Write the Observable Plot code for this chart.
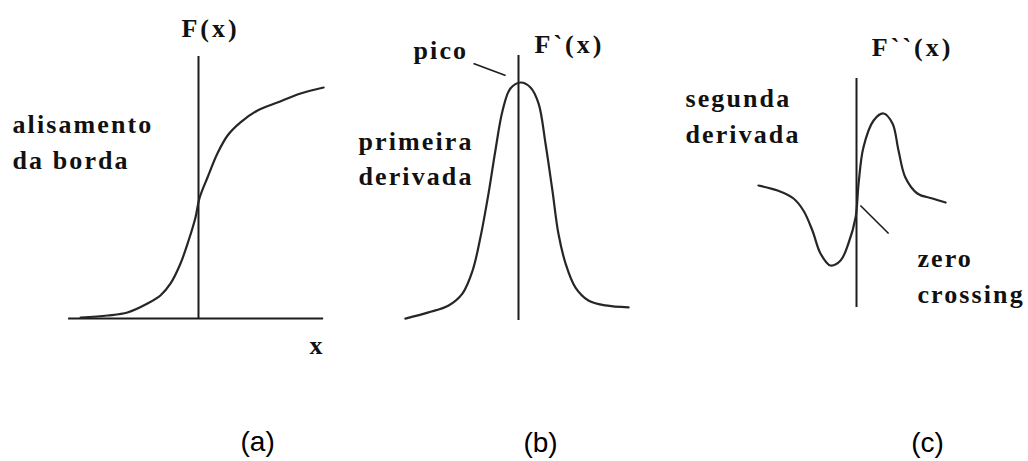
<!DOCTYPE html>
<html>
<head>
<meta charset="utf-8">
<script src="https://cdn.jsdelivr.net/npm/d3@7"></script>
<script src="https://cdn.jsdelivr.net/npm/@observablehq/plot@0.6"></script>
<style>
  html, body { margin: 0; padding: 0; background: #fff; }
  #figure { position: relative; width: 1028px; height: 461px; overflow: hidden; }
  #figure > svg { position: absolute; left: 0; top: 0; background: transparent; }
  /* bold serif labels with the wide tracking of the drawing */
  #figure g[aria-description="headings"] { letter-spacing: 3px; }
  #figure g[aria-description="notes"] { letter-spacing: 2.1px; }
</style>
</head>
<body>
<div id="figure"></div>
<script>
// Horizontal positions are in units from each panel's vertical axis.
// (a) the smoothed edge F(x), rising from 0 to 1
const edgeX = [-3.93, -3.03, -2.37, -1.7, -1.27, -0.93, -0.6, -0.33, -0.1, 0.03, 0.3, 0.63, 0.97, 1.4, 1.97, 2.63, 3.4, 4.17];
const edgeF = [0.004, 0.0125, 0.025, 0.0625, 0.096, 0.146, 0.229, 0.325, 0.421, 0.5, 0.5875, 0.6875, 0.7625, 0.817, 0.867, 0.9, 0.9375, 0.9625];

// (b) first derivative F`(x), a peak at the edge centre
const firstX = [-3.77, -3.0, -2.33, -1.87, -1.53, -1.27, -1.0, -0.77, -0.53, -0.27, 0.07, 0.4, 0.67, 0.9, 1.13, 1.33, 1.57, 1.9, 2.33, 2.9, 3.67];
const firstF = [0.048, 0.073, 0.101, 0.149, 0.242, 0.375, 0.552, 0.726, 0.887, 0.976, 1.0, 0.98, 0.915, 0.754, 0.565, 0.391, 0.27, 0.173, 0.121, 0.101, 0.093];

// (c) second derivative F``(x), crossing zero at the edge centre
const secondX = [-3.27, -2.63, -2.1, -1.77, -1.47, -1.2, -0.87, -0.53, -0.27, -0.03, 0.07, 0.23, 0.57, 0.9, 1.2, 1.4, 1.63, 2.03, 2.53, 2.97];
const secondF = [0.2, 0.15, 0.07, -0.05, -0.25, -0.48, -0.6, -0.55, -0.38, -0.12, 0.22, 0.58, 0.85, 0.92, 0.82, 0.55, 0.28, 0.12, 0.07, 0.03];

// Axis extents of each panel
const axisA = {vertical: [0, 1.092], horizontal: [-4.33, 4.17]};
const axisB = {vertical: [0.04, 1.109]};
const axisC = {vertical: [-1.02, 1.27]};

// Pointer lines
const peakPointer = [{x1: -1.5, y1: 1.077, x2: -0.43, y2: 1.028}];
const zeroPointer = [{x1: 0.13, y1: 0, x2: 1.07, y2: -0.28}];

// Text
const headings = [
  {panel: "a", text: "F(x)", x: 0.4, y: 1.171},
  {panel: "a", text: "x", x: 3.97, y: -0.146},
  {panel: "b", text: "F`(x)", x: 1.7, y: 1.117},
  {panel: "c", text: "F``(x)", x: 1.87, y: 1.5}
];
const notes = [
  {panel: "a", text: "alisamento\nda borda", x: -6.2, y: 0.625},
  {panel: "b", text: "pico", x: -3.5, y: 1.093},
  {panel: "b", text: "primeira\nderivada", x: -5.333, y: 0.585},
  {panel: "c", text: "segunda\nderivada", x: -5.7, y: 0.63},
  {panel: "c", text: "zero\ncrossing", x: 2.03, y: -0.97}
];
const captions = [
  {panel: "a", text: "(a)", x: 1.97, y: -0.554},
  {panel: "b", text: "(b)", x: 0.733, y: -0.488},
  {panel: "c", text: "(c)", x: 2.37, y: -2.46}
];

const ink = "#1c1c1c";
const serif = "Liberation Serif";

function toRows(xs, ys) { return xs.map((x, i) => ({x, y: ys[i]})); }

function panel(key, opts) {
  const marks = [];
  // vertical axis through the edge centre
  marks.push(Plot.ruleX([0], {y1: opts.axis.vertical[0], y2: opts.axis.vertical[1], stroke: ink, strokeWidth: 2}));
  if (opts.axis.horizontal) {
    marks.push(Plot.ruleY([0], {x1: opts.axis.horizontal[0], x2: opts.axis.horizontal[1], stroke: ink, strokeWidth: 2}));
  }
  marks.push(Plot.line(opts.curve, {x: "x", y: "y", curve: "catmull-rom", stroke: "#262626", strokeWidth: 2.2}));
  if (opts.pointer) {
    marks.push(Plot.link(opts.pointer, {x1: "x1", y1: "y1", x2: "x2", y2: "y2", stroke: ink, strokeWidth: 1.6}));
  }
  marks.push(Plot.text(headings.filter(d => d.panel === key), {
    x: "x", y: "y", text: "text", textAnchor: "middle", lineAnchor: "bottom",
    fontFamily: serif, fontWeight: "bold", fontSize: 26, fill: "#111", ariaDescription: "headings"
  }));
  marks.push(Plot.text(notes.filter(d => d.panel === key), {
    x: "x", y: "y", text: "text", textAnchor: "start", lineAnchor: "bottom", lineHeight: 1.35,
    fontFamily: serif, fontWeight: "bold", fontSize: 26, fill: "#111", ariaDescription: "notes"
  }));
  marks.push(Plot.text(captions.filter(d => d.panel === key), {
    x: "x", y: "y", text: "text", textAnchor: "middle", lineAnchor: "bottom",
    fontFamily: "Liberation Sans", fontSize: 28, fill: "#000", ariaDescription: "captions"
  }));
  return Plot.plot({
    width: 1028, height: 461, margin: 0,
    x: {domain: [0, 1], range: opts.xRange, axis: null},
    y: {domain: [0, 1], range: opts.yRange, axis: null},
    marks
  });
}

const fig = document.getElementById("figure");
fig.append(panel("a", {curve: toRows(edgeX, edgeF), axis: axisA, xRange: [198, 228], yRange: [318, 78]}));
fig.append(panel("b", {curve: toRows(firstX, firstF), axis: axisB, pointer: peakPointer, xRange: [518, 548], yRange: [330, 82]}));
fig.append(panel("c", {curve: toRows(secondX, secondF), axis: axisC, pointer: zeroPointer, xRange: [856, 886], yRange: [205, 105]}));
</script>
</body>
</html>
